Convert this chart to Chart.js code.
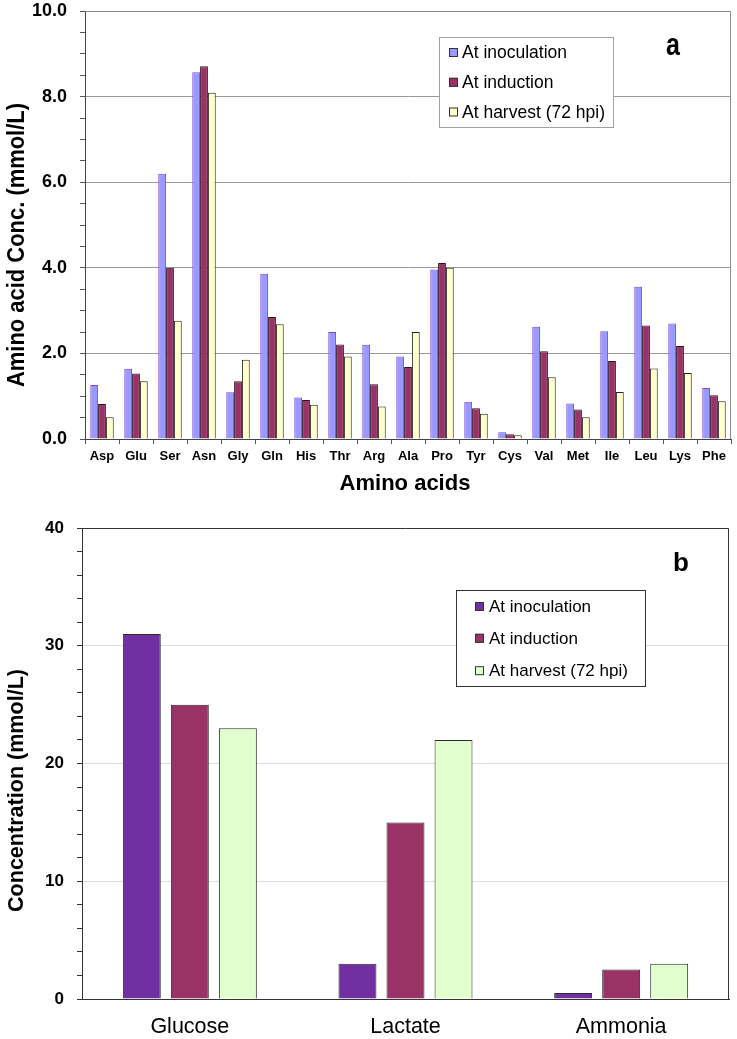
<!DOCTYPE html>
<html lang="en">

<head>
    <meta charset="UTF-8">
    <title>Amino acids and metabolites</title>
    <script src="https://cdn.jsdelivr.net/npm/chart.js@4.4.1/dist/chart.umd.min.js"></script>
    <style>
        body { margin: 0; background: #fff; }
        .panel { position: absolute; left: 0; }
        #panelA { top: 0; }
        #panelB { top: 500px; }
    </style>
</head>

<body>
    <div class="panel" id="panelA"><canvas id="aminoChart" width="737" height="500"></canvas></div>
    <div class="panel" id="panelB"><canvas id="metaboliteChart" width="737" height="539"></canvas></div>

    <script>
        // Data
        const seriesLabels = ['At inoculation', 'At induction', 'At harvest (72 hpi)'];

        const aminoAcids = ['Asp', 'Glu', 'Ser', 'Asn', 'Gly', 'Gln', 'His', 'Thr', 'Arg', 'Ala',
            'Pro', 'Tyr', 'Cys', 'Val', 'Met', 'Ile', 'Leu', 'Lys', 'Phe'];
        const aaInoculation = [1.26, 1.64, 6.20, 8.57, 1.09, 3.86, 0.97, 2.50, 2.20, 1.93,
            3.96, 0.87, 0.16, 2.62, 0.83, 2.52, 3.56, 2.70, 1.19];
        const aaInduction = [0.82, 1.53, 4.00, 8.71, 1.35, 2.85, 0.91, 2.21, 1.28, 1.68,
            4.11, 0.72, 0.11, 2.05, 0.69, 1.82, 2.65, 2.17, 1.02];
        const aaHarvest = [0.51, 1.35, 2.76, 8.09, 1.85, 2.68, 0.80, 1.93, 0.76, 2.50,
            4.00, 0.59, 0.09, 1.44, 0.51, 1.10, 1.65, 1.54, 0.88];

        const metabolites = ['Glucose', 'Lactate', 'Ammonia'];
        const metInoculation = [31, 3, 0.5];
        const metInduction = [25, 15, 2.5];
        const metHarvest = [23, 22, 3];

        const SANS = '"Liberation Sans", Arial, sans-serif';
        const NARROW = '"Liberation Sans Narrow", "Arial Narrow", "Liberation Sans", sans-serif';

        // Draws plot frame, axis titles, panel letter and the boxed legend
        const decor = {
            id: 'decor',
            afterDraw(chart, args, opts) {
                const ctx = chart.ctx;
                const a = chart.chartArea;
                ctx.save();

                // top and right edges of the plot area
                ctx.strokeStyle = opts.frameColor;
                ctx.lineWidth = 1;
                ctx.beginPath();
                ctx.moveTo(Math.round(a.left) + 0.5, Math.round(a.top) + 0.5);
                ctx.lineTo(Math.round(a.right) - 0.5, Math.round(a.top) + 0.5);
                ctx.lineTo(Math.round(a.right) - 0.5, Math.round(a.bottom));
                ctx.stroke();

                ctx.fillStyle = '#000';

                // y title, rotated and fitted to its length
                if (opts.yTitle) {
                    const t = opts.yTitle;
                    ctx.save();
                    ctx.translate(t.x, t.y);
                    ctx.rotate(-Math.PI / 2);
                    ctx.font = t.font;
                    const w = ctx.measureText(t.text).width;
                    ctx.scale(t.length / w, 1);
                    ctx.textAlign = 'center';
                    ctx.textBaseline = 'middle';
                    ctx.fillText(t.text, 0, 0);
                    ctx.restore();
                }

                if (opts.xTitle) {
                    const t = opts.xTitle;
                    ctx.font = t.font;
                    ctx.textAlign = 'center';
                    ctx.textBaseline = 'alphabetic';
                    ctx.fillText(t.text, t.x, t.y);
                }

                if (opts.letter) {
                    const t = opts.letter;
                    ctx.save();
                    ctx.translate(t.x, t.y);
                    ctx.scale(1, t.stretchY);
                    ctx.font = t.font;
                    ctx.textAlign = 'center';
                    ctx.textBaseline = 'alphabetic';
                    ctx.fillText(t.text, 0, 0);
                    ctx.restore();
                }

                // legend box
                if (opts.legend) {
                    const L = opts.legend;
                    ctx.fillStyle = '#fff';
                    ctx.fillRect(L.x, L.y, L.w, L.h);
                    ctx.strokeStyle = L.borderColor;
                    ctx.strokeRect(L.x + 0.5, L.y + 0.5, L.w, L.h);
                    ctx.font = L.font;
                    ctx.textAlign = 'left';
                    ctx.textBaseline = 'middle';
                    chart.data.datasets.forEach((ds, i) => {
                        const cy = L.rowY[i];
                        const s = L.markerSize;
                        ctx.fillStyle = ds.backgroundColor;
                        ctx.fillRect(L.markerX, cy - s / 2, s, s);
                        ctx.strokeStyle = L.markerBorder;
                        ctx.strokeRect(L.markerX + 0.5, cy - s / 2 + 0.5, s - 1, s - 1);
                        ctx.fillStyle = '#000';
                        ctx.fillText(ds.label, L.textX, cy + 1);
                    });
                }
                ctx.restore();
            }
        };

        function isMultiple(v, step) {
            return Math.abs(v / step - Math.round(v / step)) < 1e-6;
        }

        // Panel a: amino acids
        const aminoChart = new Chart(document.getElementById('aminoChart'), {
            type: 'bar',
            data: {
                labels: aminoAcids,
                datasets: [
                    { label: seriesLabels[0], data: aaInoculation, backgroundColor: '#9999ff', borderColor: '#7b45d6', borderWidth: 1 },
                    { label: seriesLabels[1], data: aaInduction, backgroundColor: '#993366', borderColor: '#2a1020', borderWidth: 1 },
                    { label: seriesLabels[2], data: aaHarvest, backgroundColor: '#ffffcc', borderColor: '#222', borderWidth: 1 }
                ]
            },
            options: {
                responsive: false,
                animation: false,
                layout: { padding: { top: 0, right: 6, left: 0, bottom: 0 } },
                datasets: { bar: { categoryPercentage: 0.69, barPercentage: 1.0 } },
                scales: {
                    x: {
                        grid: { offset: true, drawOnChartArea: false, tickLength: 5, tickColor: '#555' },
                        border: { color: '#444' },
                        ticks: { color: '#000', font: { family: NARROW, weight: 'bold', size: 13 }, padding: 5, maxRotation: 0, autoSkip: false },
                        afterFit: s => { s.height = 61; }
                    },
                    y: {
                        min: 0,
                        max: 10,
                        ticks: {
                            stepSize: 0.5,
                            autoSkip: false,
                            padding: 13,
                            color: '#000',
                            font: { family: SANS, weight: 'bold', size: 18 },
                            callback: v => isMultiple(v, 2) ? v.toFixed(1) : ''
                        },
                        grid: {
                            color: c => (c.tick && isMultiple(c.tick.value, 2) && c.tick.value > 0 && c.tick.value < 10) ? '#9a9a9a' : 'rgba(0,0,0,0)',
                            tickLength: 5,
                            tickColor: '#555'
                        },
                        border: { color: '#444' },
                        // plot area starts 11px below the canvas top, as in the figure
                        afterFit: s => { s.width = 85; s.paddingTop = 11; }
                    }
                },
                plugins: {
                    legend: { display: false },
                    tooltip: { enabled: false },
                    decor: {
                        frameColor: '#8c8c8c',
                        yTitle: { text: 'Amino acid Conc. (mmol/L)', x: 18, y: 245, font: 'bold 23px ' + SANS, length: 284 },
                        xTitle: { text: 'Amino acids', x: 405, y: 490, font: 'bold 22px ' + SANS },
                        letter: { text: 'a', x: 673, y: 55, font: 'bold 25px ' + SANS, stretchY: 1.28 },
                        legend: {
                            x: 439, y: 37, w: 174, h: 90,
                            rowY: [52.5, 82.3, 112],
                            markerX: 449, markerSize: 9, markerBorder: '#333',
                            textX: 462, font: '17.5px ' + SANS, borderColor: '#a0a0a0'
                        }
                    }
                }
            },
            plugins: [decor]
        });

        // Panel b: glucose, lactate, ammonia
        const metaboliteChart = new Chart(document.getElementById('metaboliteChart'), {
            type: 'bar',
            data: {
                labels: metabolites,
                datasets: [
                    { label: seriesLabels[0], data: metInoculation, backgroundColor: '#7030a0', borderColor: '#2b2b2b', borderWidth: 1 },
                    { label: seriesLabels[1], data: metInduction, backgroundColor: '#993366', borderColor: '#2b2b2b', borderWidth: 1 },
                    { label: seriesLabels[2], data: metHarvest, backgroundColor: '#e0ffcc', borderColor: '#2b2b2b', borderWidth: 1 }
                ]
            },
            options: {
                responsive: false,
                animation: false,
                layout: { padding: { top: 28, right: 8, left: 0, bottom: 0 } },
                datasets: { bar: { categoryPercentage: 0.668, barPercentage: 0.79 } },
                scales: {
                    x: {
                        grid: { display: false },
                        border: { color: '#333' },
                        ticks: { color: '#000', font: { family: SANS, size: 21.5 }, padding: 7, maxRotation: 0 },
                        afterFit: s => { s.height = 40; }
                    },
                    y: {
                        min: 0,
                        max: 40,
                        ticks: {
                            stepSize: 2,
                            autoSkip: false,
                            padding: 13,
                            color: '#000',
                            font: { family: SANS, weight: 'bold', size: 17 },
                            callback: v => isMultiple(v, 10) ? String(v) : ''
                        },
                        grid: {
                            color: c => (c.tick && isMultiple(c.tick.value, 10) && c.tick.value > 0 && c.tick.value < 40) ? '#dedede' : 'rgba(0,0,0,0)',
                            tickLength: 5,
                            tickColor: '#333'
                        },
                        border: { color: '#333' },
                        afterFit: s => { s.width = 82; }
                    }
                },
                plugins: {
                    legend: { display: false },
                    tooltip: { enabled: false },
                    decor: {
                        frameColor: '#333',
                        yTitle: { text: 'Concentration (mmol/L)', x: 17, y: 290.5, font: 'bold 22px ' + SANS, length: 243 },
                        letter: { text: 'b', x: 681, y: 71, font: 'bold 26px ' + SANS, stretchY: 1 },
                        legend: {
                            x: 456, y: 90, w: 189, h: 96,
                            rowY: [106.5, 138.3, 170.7],
                            markerX: 475, markerSize: 9, markerBorder: '#333',
                            textX: 489, font: '17px ' + SANS, borderColor: '#333'
                        }
                    }
                }
            },
            plugins: [decor]
        });
    </script>
</body>

</html>
